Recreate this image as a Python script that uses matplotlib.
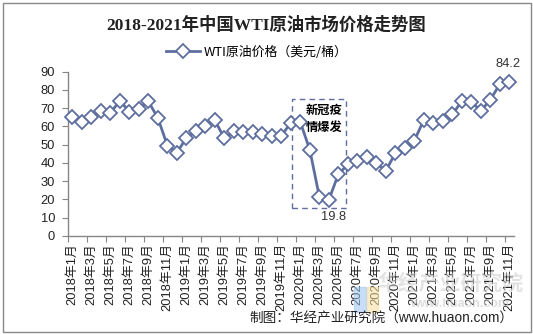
import matplotlib
matplotlib.use("Agg")
import matplotlib.pyplot as plt
from matplotlib.patches import Rectangle
from matplotlib.lines import Line2D

# ---- data ----
months = [f"{y}年{m}月" for y in (2018, 2019, 2020, 2021) for m in range(1, 13)][:47]
prices = [65.0, 62.3, 65.0, 68.5, 67.5, 74.1, 68.1, 69.7, 73.7, 64.6, 49.5, 45.6,
          53.8, 57.5, 60.2, 63.3, 53.5, 57.5, 56.8, 56.8, 55.7, 54.9, 54.9, 62.1,
          62.4, 47.1, 21.5, 19.8, 33.8, 39.2, 41.3, 43.1, 39.8, 35.8, 45.3, 48.0,
          52.2, 63.5, 61.7, 63.2, 66.6, 73.8, 73.6, 68.6, 74.5, 83.2, 84.2]
tick_labels = months[::2]
title = "2018-2021年中国WTI原油市场价格走势图"
series_name = "WTI原油价格（美元/桶）"
note = "新冠疫\n情爆发"
source = "制图：华经产业研究院（www.huaon.com）"

CJK = "Noto Sans CJK SC"
SANS = ["Liberation Sans", CJK]
plt.rcParams["font.family"] = SANS

W, H = 533, 334
fig = plt.figure(figsize=(W / 100, H / 100), dpi=100)
fig.patch.set_facecolor("white")

def fx(px):
    return px / W

def fy(py):
    return 1 - py / H

ax = fig.add_axes([fx(67.7), fy(236), fx(514) - fx(67.7), fy(71.7) - fy(236)])
color = "#5E6E9E"

x = list(range(len(prices)))
ax.plot(x, prices, color=color, lw=2.0, marker="D", markersize=7.2,
        markerfacecolor="white", markeredgecolor=color, markeredgewidth=1.3,
        zorder=3, clip_on=False)

ax.set_xlim(-0.5, len(prices) - 0.5)
ax.set_ylim(0, 90)
ax.set_yticks(range(0, 91, 10))
ax.tick_params(axis="y", labelsize=9.3, length=4, color="#868686", pad=5,
               labelcolor="#222222")
# category ticks: marks at boundaries every 2 categories, labels centered
ax.set_xticks([i - 0.5 for i in range(0, len(prices) + 1, 2)], minor=False)
ax.set_xticklabels([])
ax.set_xticks(list(range(0, len(prices), 2)), minor=True)
ax.set_xticklabels(tick_labels, minor=True, rotation=90, fontsize=9.3,
                   color="#222222")
ax.tick_params(axis="x", which="major", length=4, color="#868686")
ax.tick_params(axis="x", which="minor", length=0, pad=5)

for s in ("top", "right"):
    ax.spines[s].set_visible(False)
for s in ("left", "bottom"):
    ax.spines[s].set_color("#868686")
    ax.spines[s].set_linewidth(1)

# annotation box
ax.add_patch(Rectangle((23.15, 15.2), 28.8 - 23.15, 74.9 - 15.2, fill=False,
                       ls=(0, (4, 3)), lw=1, edgecolor=color, zorder=2))
ax.text(28.45, 72.5, note, ha="right", va="top", fontsize=8.8, fontweight="bold",
        family=[CJK], linespacing=1.45, color="black", zorder=4)

# data labels
ax.annotate(f"{prices[27]:.1f}", (27, prices[27]), xytext=(3.6, -12),
            textcoords="offset points", ha="center", va="center", fontsize=9.3,
            color="#333333")
ax.annotate(f"{prices[-1]:.1f}", (46, prices[-1]), xytext=(-1, 13),
            textcoords="offset points", ha="center", va="center", fontsize=9.3,
            color="#333333")

# title and legend
fig.text(0.5, fy(25), title, ha="center", va="center", fontsize=12.5,
         fontweight="bold", family=["Liberation Serif", CJK], color="#222222")
handle = Line2D([], [], color=color, lw=2.0, marker="D", markersize=7.2,
                markerfacecolor="white", markeredgecolor=color,
                markeredgewidth=1.3)
fig.legend([handle], [series_name], loc="center", bbox_to_anchor=(fx(257), fy(52)),
           frameon=False, prop={"family": [CJK], "size": 9.3}, handlelength=2.6,
           handletextpad=0.3)

# watermark (faint, behind the labels)
fig.patches.append(Rectangle((fx(354), fy(312)), fx(12), fy(287) - fy(312),
                             transform=fig.transFigure, color="#9CC3F0",
                             alpha=0.55, zorder=0))
fig.patches.append(Rectangle((fx(367), fy(312)), fx(11), fy(287) - fy(312),
                             transform=fig.transFigure, color="#F5DE9A",
                             alpha=0.55, zorder=0))
fig.text(fx(450), fy(283), "华经产业研究院", ha="center", va="center",
         fontsize=15, fontweight="bold", family=[CJK], color="#CCCCCC",
         alpha=0.55, zorder=0)
fig.text(fx(460), fy(304), "www.huaon.com", ha="center", va="center",
         fontsize=9, fontweight="bold", color="#CCCCCC", alpha=0.65, zorder=0)

# source
fig.text(fx(513), fy(318), source, ha="right", va="center", fontsize=9.8,
         family=SANS, color="#222222")

# border
fig.patches.append(Rectangle((fx(2.5), fy(331.5)), fx(528), fy(2.5) - fy(331.5),
                             transform=fig.transFigure, fill=False,
                             edgecolor="#888888", lw=1))

fig.savefig("out.png", dpi=100)
